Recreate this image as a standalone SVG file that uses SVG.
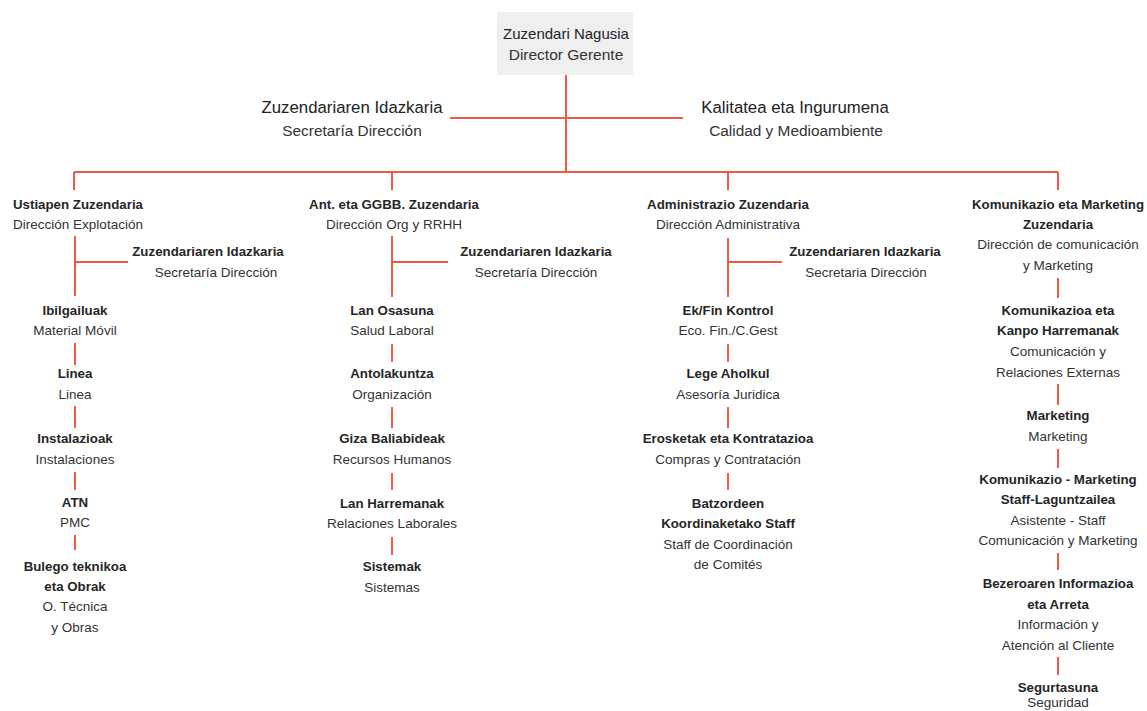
<svg xmlns="http://www.w3.org/2000/svg" width="1147" height="711" viewBox="0 0 1147 711">
<style>
text{font-family:"Liberation Sans",Arial,sans-serif;text-anchor:middle;dominant-baseline:central;fill:#1e1e1e}
.t{font-size:13.3px;font-weight:bold;fill:#262626}
.s{font-size:13.5px;fill:#333}
.T{font-size:15px;fill:#222}
.S{font-size:15.5px;fill:#333}
.T2{font-size:16.8px;fill:#222}
.S2{font-size:15.4px;fill:#333}
.ln{stroke:#ef5a44;stroke-width:2;fill:none}
</style>
<rect width="1147" height="711" fill="#fff"/>
<g id="connectors" class="ln">
<path d="M566 75V172M450 118H683M74 172H1058M74 172V190M392 172V190M728 172V190M1058 172V190"/>
<path d="M75 236V296M75 262H128M75 343V365M75 406V428M75 472V490M75 535V550"/>
<path d="M392 236V297M392 262H448M392 344V362M392 407V428M392 473V490M392 537V555"/>
<path d="M728 238V297M728 262H782M728 344V362M728 407V428M728 473V490"/>
<path d="M1058 278V298M1058 384V405M1058 449V468M1058 553V570M1058 657V675"/>
</g>
<g id="director">
<rect x="497" y="12" width="136" height="63" fill="#efefef"/>
<text class="T" x="566" y="33">Zuzendari Nagusia</text>
<text class="S" x="566" y="54">Director Gerente</text>
</g>
<g id="secretaria-top"><text class="T2" x="352" y="107">Zuzendariaren Idazkaria</text><text class="S2" x="352" y="130">Secretaría Dirección</text></g>
<g id="calidad"><text class="T2" x="795" y="107">Kalitatea eta Ingurumena</text><text class="S2" x="796" y="130">Calidad y Medioambiente</text></g>

<g id="explotacion"><text class="t" x="78" y="204">Ustiapen Zuzendaria</text><text class="s" x="78" y="224">Dirección Explotación</text></g>
<g id="sec1"><text class="t" x="208" y="251">Zuzendariaren Idazkaria</text><text class="s" x="216" y="272">Secretaría Dirección</text></g>
<g id="ibilgailuak"><text class="t" x="75" y="310">Ibilgailuak</text><text class="s" x="75" y="330">Material Móvil</text></g>
<g id="linea"><text class="t" x="75" y="373">Linea</text><text class="s" x="75" y="394">Linea</text></g>
<g id="instalazioak"><text class="t" x="75" y="438">Instalazioak</text><text class="s" x="75" y="459">Instalaciones</text></g>
<g id="atn"><text class="t" x="75" y="502">ATN</text><text class="s" x="75" y="522">PMC</text></g>
<g id="bulego"><text class="t" x="75" y="566">Bulego teknikoa</text><text class="t" x="75" y="586">eta Obrak</text><text class="s" x="75" y="606">O. Técnica</text><text class="s" x="75" y="627">y Obras</text></g>

<g id="rrhh"><text class="t" x="394" y="204">Ant. eta GGBB. Zuzendaria</text><text class="s" x="394" y="224">Dirección Org y RRHH</text></g>
<g id="sec2"><text class="t" x="536" y="251">Zuzendariaren Idazkaria</text><text class="s" x="536" y="272">Secretaría Dirección</text></g>
<g id="lan-osasuna"><text class="t" x="392" y="310">Lan Osasuna</text><text class="s" x="392" y="330">Salud Laboral</text></g>
<g id="antolakuntza"><text class="t" x="392" y="373">Antolakuntza</text><text class="s" x="392" y="394">Organización</text></g>
<g id="giza"><text class="t" x="392" y="438">Giza Baliabideak</text><text class="s" x="392" y="459">Recursos Humanos</text></g>
<g id="lan-harremanak"><text class="t" x="392" y="503">Lan Harremanak</text><text class="s" x="392" y="523">Relaciones Laborales</text></g>
<g id="sistemak"><text class="t" x="392" y="566">Sistemak</text><text class="s" x="392" y="587">Sistemas</text></g>

<g id="administrativa"><text class="t" x="728" y="204">Administrazio Zuzendaria</text><text class="s" x="728" y="224">Dirección Administrativa</text></g>
<g id="sec3"><text class="t" x="865" y="251">Zuzendariaren Idazkaria</text><text class="s" x="866" y="272">Secretaria Dirección</text></g>
<g id="ekfin"><text class="t" x="728" y="310">Ek/Fin Kontrol</text><text class="s" x="728" y="330">Eco. Fin./C.Gest</text></g>
<g id="lege"><text class="t" x="728" y="373">Lege Aholkul</text><text class="s" x="728" y="394">Asesoría Juridica</text></g>
<g id="erosketak"><text class="t" x="728" y="438">Erosketak eta Kontratazioa</text><text class="s" x="728" y="459">Compras y Contratación</text></g>
<g id="batzordeen"><text class="t" x="728" y="503">Batzordeen</text><text class="t" x="728" y="523">Koordinaketako Staff</text><text class="s" x="728" y="544">Staff de Coordinación</text><text class="s" x="728" y="564">de Comités</text></g>

<g id="komunikazio"><text class="t" x="1058" y="204">Komunikazio eta Marketing</text><text class="t" x="1058" y="224">Zuzendaria</text><text class="s" x="1058" y="244">Dirección de comunicación</text><text class="s" x="1058" y="265">y Marketing</text></g>
<g id="kanpo"><text class="t" x="1058" y="310">Komunikazioa eta</text><text class="t" x="1058" y="330">Kanpo Harremanak</text><text class="s" x="1058" y="351">Comunicación y</text><text class="s" x="1058" y="372">Relaciones Externas</text></g>
<g id="marketing"><text class="t" x="1058" y="415">Marketing</text><text class="s" x="1058" y="436">Marketing</text></g>
<g id="staff"><text class="t" x="1058" y="479">Komunikazio - Marketing</text><text class="t" x="1058" y="499">Staff-Laguntzailea</text><text class="s" x="1058" y="520">Asistente - Staff</text><text class="s" x="1058" y="540">Comunicación y Marketing</text></g>
<g id="bezero"><text class="t" x="1058" y="583">Bezeroaren Informazioa</text><text class="t" x="1058" y="604">eta Arreta</text><text class="s" x="1058" y="624">Información y</text><text class="s" x="1058" y="645">Atención al Cliente</text></g>
<g id="segurtasuna"><text class="t" x="1058" y="687">Segurtasuna</text><text class="s" x="1058" y="702">Seguridad</text></g>
</svg>
